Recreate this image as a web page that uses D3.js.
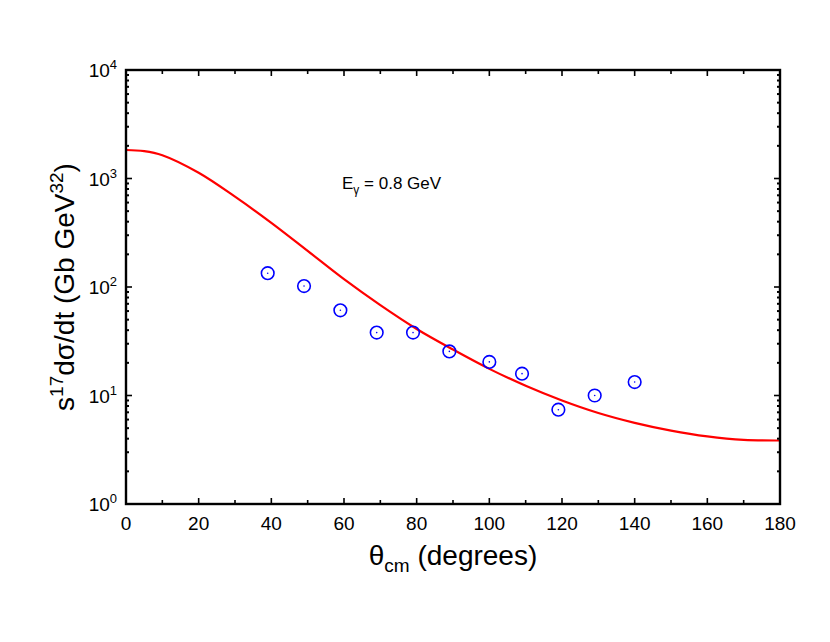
<!DOCTYPE html>
<html><head><meta charset="utf-8">
<script src="https://cdn.jsdelivr.net/npm/d3@7"></script>
<style>body{margin:0;background:#fff}text{font-family:"Liberation Sans",Arial,sans-serif}</style>
</head><body><svg id="c" width="830" height="642"></svg>
<script>
const dataX=[39,49,59,69,79,89,100,109,119,129,140];
const dataY=[134,102,61,38,38,25.5,20.4,15.9,7.4,10,13.3];
const curveX=[0,5,10,20,30,40,50,60,70,80,90,100,110,120,130,140,150,160,170,180];
const curveY=[1830,1790,1640,1130,680,390,215,118,68,41,26.5,17.6,12.3,9.0,6.9,5.6,4.75,4.2,3.9,3.85];
const xTicks=[0,20,40,60,80,100,120,140,160,180];
const yExps=[0,1,2,3,4];

const svg=d3.select("#c");
const L=126,R=780,T=70,B=504;
const x=d3.scaleLinear().domain([0,180]).range([L,R]);
const y=d3.scaleLog().domain([1,1e4]).range([B,T]);
const g=svg.append("g");

g.append("path").datum(curveX.map((d,i)=>[d,curveY[i]]))
 .attr("d",d3.line().x(d=>x(d[0])).y(d=>y(d[1])).curve(d3.curveCatmullRom))
 .attr("fill","none").attr("stroke","#f00").attr("stroke-width",2.2);

const pts=g.selectAll(".p").data(dataX.map((d,i)=>[d,dataY[i]])).enter();
pts.append("circle").attr("cx",d=>x(d[0])).attr("cy",d=>y(d[1])).attr("r",6.3)
 .attr("fill","none").attr("stroke","#00f").attr("stroke-width",1.6);
pts.append("circle").attr("cx",d=>x(d[0])).attr("cy",d=>y(d[1])).attr("r",0.8).attr("fill","#00f");

const tk=svg.append("g").attr("stroke","#000");
d3.range(0,181,10).forEach(v=>{
  const len=v%20===0?6:4;
  tk.append("line").attr("x1",x(v)).attr("x2",x(v)).attr("y1",B).attr("y2",B-len).attr("stroke-width",1.6);
  tk.append("line").attr("x1",x(v)).attr("x2",x(v)).attr("y1",T).attr("y2",T+len).attr("stroke-width",1.6);
});
for(let e=0;e<4;e++){for(let m=1;m<10;m++){
  const v=m*Math.pow(10,e), len=m===1?6:3;
  tk.append("line").attr("x1",L).attr("x2",L+len).attr("y1",y(v)).attr("y2",y(v)).attr("stroke-width",m===1?1.6:2);
  tk.append("line").attr("x1",R).attr("x2",R-len).attr("y1",y(v)).attr("y2",y(v)).attr("stroke-width",m===1?1.6:2);
}}
svg.append("rect").attr("x",L).attr("y",T).attr("width",R-L).attr("height",B-T)
 .attr("fill","none").attr("stroke","#000").attr("stroke-width",2.4);

xTicks.forEach(v=>svg.append("text").attr("x",x(v)).attr("y",B+26).attr("text-anchor","middle")
 .attr("font-size",19).text(v));
yExps.forEach(e=>{
  const t=svg.append("text").attr("x",L-9).attr("y",y(Math.pow(10,e))+7).attr("text-anchor","end").attr("font-size",19);
  t.append("tspan").text("10");
  t.append("tspan").attr("dy",-8).attr("font-size",13).text(e);
});
const xt=svg.append("text").attr("x",(L+R)/2).attr("y",565).attr("text-anchor","middle").attr("font-size",28);
xt.append("tspan").text("θ");
xt.append("tspan").attr("dy",7).attr("font-size",19).text("cm");
xt.append("tspan").attr("dy",-7).text(" (degrees)");
const yt=svg.append("text").attr("transform",`translate(74,${(T+B)/2}) rotate(-90)`).attr("text-anchor","middle").attr("font-size",28);
yt.append("tspan").text("s");
yt.append("tspan").attr("dy",-11).attr("font-size",19).text("17");
yt.append("tspan").attr("dy",11).text("dσ/dt (Gb GeV");
yt.append("tspan").attr("dy",-11).attr("font-size",19).text("32");
yt.append("tspan").attr("dy",11).text(")");
const an=svg.append("text").attr("x",342).attr("y",189).attr("font-size",17);
an.append("tspan").text("E");
an.append("tspan").attr("dy",5).attr("font-size",12).text("γ");
an.append("tspan").attr("dy",-5).text(" = 0.8 GeV");
</script></body></html>
